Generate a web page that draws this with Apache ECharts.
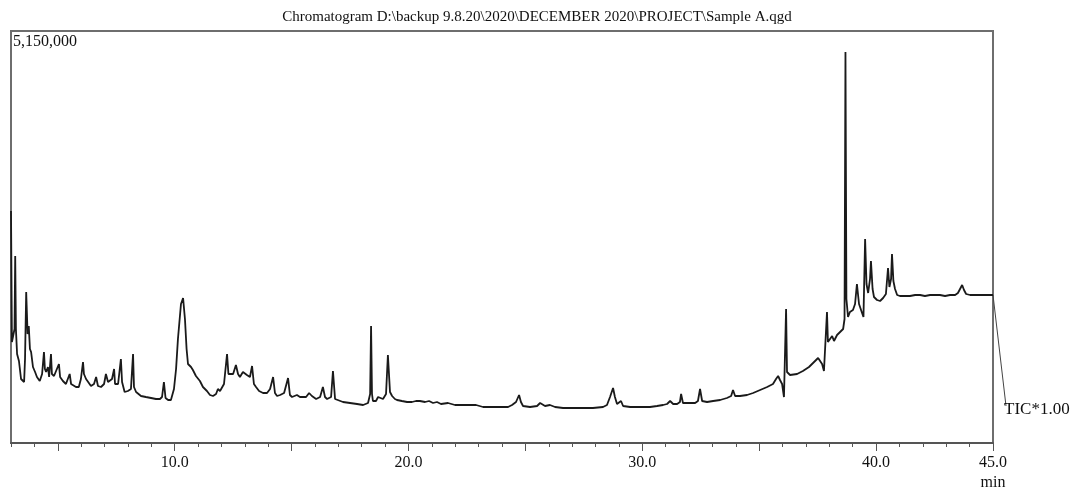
<!DOCTYPE html>
<html>
<head>
<meta charset="utf-8">
<script src="https://cdn.jsdelivr.net/npm/echarts@6/dist/echarts.min.js"></script>
<style>
  html, body { margin: 0; padding: 0; background: #fff; }
  #main { width: 1074px; height: 493px; }
</style>
</head>
<body>
<div id="main"></div>
<script>
var chartTitle = 'Chromatogram D:\\backup 9.8.20\\2020\\DECEMBER 2020\\PROJECT\\Sample A.qgd';
var yMaxLabel = '5,150,000';
var traceName = 'TIC*1.00';
var axisLabelValues = [10, 20, 30, 40, 45];

// retention time (min)
var retentionTime = [
    3.00, 3.04, 3.09, 3.15, 3.18, 3.21, 3.26, 3.34, 3.43, 3.56, 3.60, 3.65, 3.71, 3.76, 3.81, 3.86, 3.94,
    4.03, 4.11, 4.23, 4.33, 4.41, 4.45, 4.50, 4.58, 4.63, 4.71, 4.75, 4.84, 4.92,
    5.05, 5.10, 5.22, 5.35, 5.51, 5.57, 5.65, 5.78, 5.90, 5.99,
    6.08, 6.12, 6.21, 6.29, 6.42, 6.55, 6.64, 6.72, 6.85, 6.98,
    7.06, 7.15, 7.23, 7.32, 7.41, 7.45, 7.49, 7.58, 7.70, 7.75, 7.86,
    8.00, 8.13, 8.22, 8.26, 8.35, 8.56, 8.77, 8.99, 9.20, 9.37, 9.46, 9.54, 9.61, 9.72, 9.84, 9.97,
    10.06, 10.14, 10.27, 10.36, 10.44, 10.51, 10.57, 10.70, 10.78, 10.91,
    11.08, 11.21, 11.38, 11.51, 11.64, 11.77, 11.85, 11.94,
    12.02, 12.11, 12.24, 12.30, 12.37, 12.50, 12.62, 12.71, 12.79, 12.92,
    13.09, 13.22, 13.31, 13.39, 13.48, 13.61, 13.78, 13.95,
    14.08, 14.21, 14.29, 14.38, 14.51, 14.68, 14.85, 14.93,
    15.02, 15.23, 15.36, 15.62, 15.75, 15.87, 16.05, 16.22, 16.34, 16.43, 16.52, 16.69, 16.77, 16.86, 16.94,
    17.20, 17.50, 17.80, 18.06, 18.27, 18.36, 18.40, 18.44, 18.48, 18.61, 18.70, 18.78, 18.91,
    19.04, 19.12, 19.21, 19.30, 19.42, 19.51, 19.72, 19.94,
    20.15, 20.32, 20.49, 20.71, 20.88, 21.05, 21.22, 21.39, 21.69, 21.99, 22.33, 22.63, 22.89,
    23.19, 23.49, 23.92, 24.26, 24.43, 24.60, 24.73, 24.81, 24.90, 25.20, 25.50, 25.63, 25.71, 25.84,
    26.05, 26.27, 26.61, 27.04, 27.47, 27.89, 28.32, 28.49, 28.62, 28.75, 28.83, 28.92,
    29.00, 29.09, 29.18, 29.48, 29.90, 30.33, 30.63, 30.89, 31.06, 31.19, 31.32, 31.49, 31.61, 31.66, 31.74,
    32.04, 32.26, 32.38, 32.47, 32.56, 32.77, 33.03, 33.33, 33.62, 33.80, 33.88, 33.97,
    34.18, 34.48, 34.74, 35.04, 35.34, 35.59, 35.72, 35.81, 35.89, 35.98,
    36.06, 36.15, 36.19, 36.32, 36.40, 36.62, 36.87, 37.13, 37.39, 37.52, 37.60, 37.69, 37.77, 37.90, 37.94,
    38.03, 38.12, 38.20, 38.33, 38.46, 38.50, 38.59, 38.65, 38.69, 38.73, 38.80, 38.88,
    39.01, 39.10, 39.18, 39.27, 39.40, 39.46, 39.53, 39.59, 39.66, 39.74, 39.78, 39.85, 39.91,
    40.04, 40.17, 40.30, 40.42, 40.51, 40.57, 40.64, 40.68, 40.74, 40.81, 40.90,
    41.02, 41.24, 41.45, 41.67, 41.88, 42.09, 42.31, 42.52, 42.73, 42.95,
    43.16, 43.38, 43.50, 43.59, 43.68, 43.76, 43.85, 44.02, 44.23, 44.45, 44.66, 44.87, 45.00
];

// TIC intensity (counts)
var ticIntensity = [
    2900000, 1262500, 1237500, 1425000, 2337500, 1425000, 1112500, 1025000, 800000, 762500, 1050000, 1887500, 1362500, 1462500, 1175000, 1137500, 950000,
    887500, 825000, 775000, 862500, 1137500, 925000, 887500, 950000, 825000, 1112500, 862500, 837500, 862500,
    987500, 825000, 775000, 737500, 862500, 737500, 712500, 700000, 700000, 800000,
    1012500, 862500, 800000, 775000, 712500, 737500, 825000, 712500, 700000, 737500,
    862500, 762500, 737500, 800000, 925000, 737500, 712500, 737500, 1050000, 762500, 637500,
    650000, 675000, 1112500, 700000, 637500, 587500, 575000, 562500, 550000, 550000, 575000, 762500, 562500, 537500, 537500, 675000,
    925000, 1300000, 1737500, 1812500, 1550000, 1175000, 987500, 950000, 912500, 837500,
    775000, 700000, 650000, 600000, 587500, 612500, 675000, 650000,
    637500, 737500, 1112500, 862500, 850000, 862500, 975000, 862500, 825000, 887500,
    850000, 825000, 962500, 737500, 700000, 650000, 625000, 625000,
    675000, 825000, 625000, 587500, 600000, 625000, 812500, 600000,
    575000, 600000, 575000, 575000, 625000, 587500, 550000, 575000, 700000, 575000, 550000, 575000, 900000, 550000, 525000,
    512500, 500000, 487500, 475000, 500000, 612500, 1462500, 612500, 525000, 525000, 575000, 587500, 550000,
    612500, 1100000, 637500, 587500, 550000, 537500, 525000, 512500,
    512500, 525000, 525000, 512500, 525000, 500000, 512500, 487500, 500000, 475000, 475000, 475000, 475000,
    450000, 450000, 450000, 450000, 475000, 512500, 600000, 512500, 462500, 450000, 462500, 500000, 475000, 462500,
    475000, 450000, 437500, 437500, 437500, 437500, 450000, 475000, 575000, 687500, 575000, 487500,
    512500, 525000, 462500, 450000, 450000, 450000, 462500, 475000, 487500, 525000, 487500, 487500, 512500, 612500, 500000,
    500000, 500000, 525000, 675000, 525000, 512500, 525000, 537500, 562500, 587500, 662500, 587500,
    587500, 600000, 625000, 662500, 700000, 737500, 800000, 837500, 787500, 737500,
    575000, 1675000, 887500, 850000, 837500, 862500, 900000, 950000, 1025000, 1062500, 1087500, 987500, 900000, 1637500, 1262500,
    1300000, 1337500, 1275000, 1350000, 1387500, 1375000, 1425000, 1550000, 4887500, 1800000, 1575000, 1637500,
    1662500, 1737500, 1987500, 1737500, 1625000, 1575000, 2550000, 1987500, 1875000, 2050000, 2275000, 1925000, 1825000,
    1787500, 1775000, 1812500, 1862500, 2187500, 1950000, 2050000, 2362500, 2025000, 1925000, 1850000,
    1837500, 1837500, 1837500, 1850000, 1850000, 1837500, 1850000, 1850000, 1850000, 1837500,
    1850000, 1850000, 1875000, 1925000, 1975000, 1912500, 1862500, 1850000, 1850000, 1850000, 1850000, 1850000, 1850000
];

var yMax = 5150000;
var xMin = 3, xMax = 45;
var serif = 'Liberation Serif';

var seriesData = [];
for (var i = 0; i < retentionTime.length; i++) {
    seriesData.push([retentionTime[i], ticIntensity[i]]);
}

var minorTicks = [];
for (var t = xMin; t <= xMax; t++) minorTicks.push(t);
var majorTicks = [];
for (var t = 5; t <= xMax; t += 5) majorTicks.push(t);

var myChart = echarts.init(document.getElementById('main'), null, { renderer: 'canvas' });

var option = {
    animation: false,
    backgroundColor: '#fff',
    title: {
        text: chartTitle,
        left: 'center',
        top: 5,
        textStyle: { fontFamily: serif, fontSize: 15, fontWeight: 'normal', color: '#111' }
    },
    grid: {
        left: 11,
        right: 81,
        top: 31,
        bottom: 49,
        show: true,
        borderColor: '#6e6e6e',
        borderWidth: 2,
        backgroundColor: '#fff'
    },
    xAxis: [
        {
            type: 'value',
            min: xMin,
            max: xMax,
            interval: 1,
            splitLine: { show: false },
            axisLine: { show: true, lineStyle: { color: '#555', width: 2 } },
            axisTick: { show: true, length: 4, customValues: minorTicks, lineStyle: { color: '#555', width: 1 } },
            axisLabel: {
                customValues: axisLabelValues,
                margin: 10,
                lineHeight: 20,
                fontFamily: serif,
                fontSize: 16,
                color: '#111',
                formatter: function (v) {
                    return v === xMax ? v.toFixed(1) + '\nmin' : v.toFixed(1);
                }
            }
        },
        {
            type: 'value',
            position: 'bottom',
            min: xMin,
            max: xMax,
            interval: 1,
            splitLine: { show: false },
            axisLine: { show: false },
            axisTick: { show: true, length: 8, customValues: majorTicks, lineStyle: { color: '#555', width: 1 } },
            axisLabel: { show: false }
        }
    ],
    yAxis: {
        type: 'value',
        min: 0,
        max: yMax,
        show: false,
        splitLine: { show: false }
    },
    series: [
        {
            name: traceName,
            type: 'line',
            data: seriesData,
            showSymbol: false,
            symbol: 'none',
            clip: false,
            lineStyle: { color: '#1a1a1a', width: 1.8 }
        }
    ]
};

myChart.setOption(option);

// y max label and trace label with leader line from the end of the trace
var last = seriesData[seriesData.length - 1];
var endPt = myChart.convertToPixel({ seriesIndex: 0 }, last);
var topLeft = myChart.convertToPixel({ seriesIndex: 0 }, [xMin, yMax]);

myChart.setOption({
    graphic: [
        {
            type: 'text',
            left: topLeft[0] + 2,
            top: topLeft[1] + 3,
            style: { text: yMaxLabel, font: '16px ' + serif, fill: '#111' }
        },
        {
            type: 'line',
            shape: { x1: endPt[0], y1: endPt[1], x2: endPt[0] + 13, y2: endPt[1] + 111 },
            style: { stroke: '#444', lineWidth: 1 }
        },
        {
            type: 'text',
            left: endPt[0] + 11,
            top: endPt[1] + 106,
            style: { text: traceName, font: '17px ' + serif, fill: '#111' }
        }
    ]
});
</script>
</body>
</html>
